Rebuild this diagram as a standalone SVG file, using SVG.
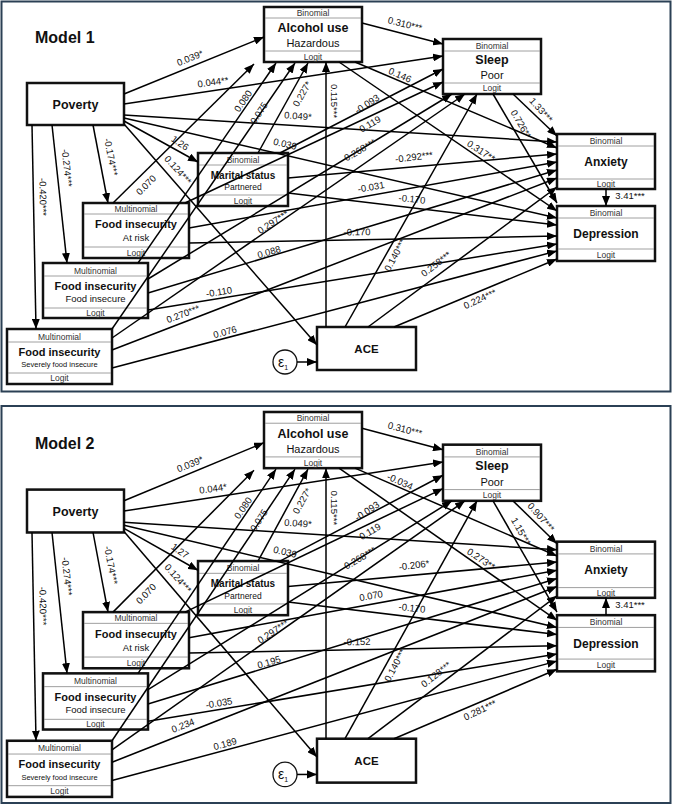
<svg xmlns="http://www.w3.org/2000/svg" width="673" height="806" viewBox="0 0 673 806">
<defs>
<marker id="ah" markerUnits="userSpaceOnUse" markerWidth="10" markerHeight="8" refX="10" refY="4" orient="auto"><path d="M0,0 L10,4 L0,8 z" fill="#000"/></marker>
<style>
.pn{fill:#fff;stroke:#2b4055;stroke-width:2}
.bx{fill:#fff;stroke:#111;stroke-width:2.5}
.dv{stroke:#888;stroke-width:0.8}
.e line{stroke:#000;stroke-width:1.5;marker-end:url(#ah)}
.t{font-family:"Liberation Sans",Arial,sans-serif;fill:#111;text-anchor:middle}
.b{font-weight:bold}
.s{fill:#333}
.lb{font-family:"Liberation Sans",Arial,sans-serif;font-size:9.5px;fill:#111;text-anchor:middle}
.ti{font-family:"Liberation Sans",Arial,sans-serif;font-size:16px;font-weight:bold;fill:#111}
</style>
</defs>
<rect width="673" height="806" fill="#fff"/>
<rect class="pn" x="1.5" y="1.5" width="669" height="390"/>
<rect class="pn" x="1.5" y="406" width="669" height="397"/>

<!-- ============ MODEL 1 ============ -->
<g id="model1">
<text class="ti" x="35" y="43">Model 1</text>
<g id="m1-alcohol"><rect class="bx" x="264" y="7" width="98" height="55"/><line class="dv" x1="265" y1="18" x2="361" y2="18"/><line class="dv" x1="265" y1="51" x2="361" y2="51"/>
<text class="t s" x="313" y="16" font-size="8.5">Binomial</text><text class="t b" x="313" y="32" font-size="12.5">Alcohol use</text><text class="t" x="313" y="47" font-size="11">Hazardous</text><text class="t s" x="313" y="60" font-size="8.5">Logit</text></g>
<g id="m1-sleep"><rect class="bx" x="443" y="39" width="98" height="55"/><line class="dv" x1="444" y1="51" x2="540" y2="51"/><line class="dv" x1="444" y1="83" x2="540" y2="83"/>
<text class="t s" x="492" y="49" font-size="8.5">Binomial</text><text class="t b" x="492" y="64" font-size="12.5">Sleep</text><text class="t" x="492" y="79" font-size="11">Poor</text><text class="t s" x="492" y="91" font-size="8.5">Logit</text></g>
<g id="m1-anxiety"><rect class="bx" x="557" y="134" width="98" height="55"/><line class="dv" x1="558" y1="146" x2="654" y2="146"/><line class="dv" x1="558" y1="179" x2="654" y2="179"/>
<text class="t s" x="606" y="144" font-size="8.5">Binomial</text><text class="t b" x="606" y="166" font-size="12">Anxiety</text><text class="t s" x="606" y="187" font-size="8.5">Logit</text></g>
<g id="m1-depression"><rect class="bx" x="557" y="206" width="98" height="55"/><line class="dv" x1="558" y1="218" x2="654" y2="218"/><line class="dv" x1="558" y1="249" x2="654" y2="249"/>
<text class="t s" x="606" y="216" font-size="8.5">Binomial</text><text class="t b" x="606" y="238" font-size="12">Depression</text><text class="t s" x="606" y="258" font-size="8.5">Logit</text></g>
<g id="m1-poverty"><rect class="bx" x="27" y="83" width="97" height="42"/><text class="t b" x="75.5" y="108.5" font-size="12.5">Poverty</text></g>
<g id="m1-marital"><rect class="bx" x="198" y="153" width="90" height="53"/><line class="dv" x1="199" y1="165" x2="287" y2="165"/><line class="dv" x1="199" y1="195" x2="287" y2="195"/>
<text class="t s" x="243" y="162.5" font-size="8.5">Binomial</text><text class="t b" x="243" y="178.5" font-size="10">Marital status</text><text class="t" x="243" y="190" font-size="8.5">Partnered</text><text class="t s" x="243" y="203.5" font-size="8.5">Logit</text></g>
<g id="m1-fi-atrisk"><rect class="bx" x="83" y="203" width="106" height="55"/><line class="dv" x1="84" y1="214" x2="188" y2="214"/><line class="dv" x1="84" y1="247" x2="188" y2="247"/>
<text class="t s" x="136" y="212" font-size="8.5">Multinomial</text><text class="t b" x="136" y="228" font-size="11">Food insecurity</text><text class="t" x="136" y="241" font-size="9.5">At risk</text><text class="t s" x="136" y="255.5" font-size="8.5">Logit</text></g>
<g id="m1-fi-insecure"><rect class="bx" x="43" y="263" width="105" height="55"/><line class="dv" x1="44" y1="276" x2="147" y2="276"/><line class="dv" x1="44" y1="308" x2="147" y2="308"/>
<text class="t s" x="95.5" y="273.5" font-size="8.5">Multinomial</text><text class="t b" x="95.5" y="290" font-size="11">Food insecurity</text><text class="t" x="95.5" y="302" font-size="9.5">Food insecure</text><text class="t s" x="95.5" y="316" font-size="8.5">Logit</text></g>
<g id="m1-fi-severe"><rect class="bx" x="7" y="329" width="105" height="55"/><line class="dv" x1="8" y1="342" x2="111" y2="342"/><line class="dv" x1="8" y1="373" x2="111" y2="373"/>
<text class="t s" x="59.5" y="339.5" font-size="8.5">Multinomial</text><text class="t b" x="59.5" y="356" font-size="11">Food insecurity</text><text class="t" x="59.5" y="367" font-size="7.5">Severely food insecure</text><text class="t s" x="59.5" y="381" font-size="8.5">Logit</text></g>
<g id="m1-ace"><rect class="bx" x="317" y="327" width="99" height="43"/><text class="t b" x="366.5" y="353" font-size="11.5">ACE</text></g>
<g id="m1-eps"><circle cx="285" cy="362" r="12" fill="#fff" stroke="#111" stroke-width="1.3"/><text class="t" x="283" y="366.5" font-size="14">ε<tspan font-size="7" dy="3">1</tspan></text></g>
<g id="m1-connectors" class="e">
<line x1="124" y1="94" x2="264" y2="37"/>
<line x1="124" y1="104" x2="443" y2="56"/>
<line x1="124" y1="115" x2="557" y2="142"/>
<line x1="124" y1="118" x2="557" y2="218"/>
<line x1="124" y1="121" x2="198" y2="162"/>
<line x1="124" y1="124" x2="317" y2="345"/>
<line x1="93" y1="125" x2="108" y2="203"/>
<line x1="52" y1="125" x2="67" y2="263"/>
<line x1="32" y1="125" x2="36" y2="329"/>
<line x1="362" y1="23" x2="443" y2="44"/>
<line x1="355" y1="62" x2="557" y2="148"/>
<line x1="339" y1="62" x2="557" y2="211"/>
<line x1="513" y1="94" x2="557" y2="136"/>
<line x1="493" y1="94" x2="557" y2="203"/>
<line x1="606" y1="189" x2="606" y2="206"/>
<line x1="326" y1="327" x2="326" y2="62"/>
<line x1="345" y1="327" x2="477" y2="94"/>
<line x1="368" y1="327" x2="557" y2="187"/>
<line x1="394" y1="327" x2="557" y2="259"/>
<line x1="297" y1="362" x2="317" y2="362"/>
<line x1="113" y1="203" x2="254" y2="64"/>
<line x1="138" y1="263" x2="276" y2="63"/>
<line x1="112" y1="329" x2="295" y2="63"/>
<line x1="258" y1="153" x2="308" y2="63"/>
<line x1="185" y1="203" x2="443" y2="82"/>
<line x1="148" y1="279" x2="452" y2="94"/>
<line x1="112" y1="338" x2="465" y2="94"/>
<line x1="280" y1="153" x2="443" y2="69"/>
<line x1="288" y1="178" x2="557" y2="154"/>
<line x1="288" y1="193" x2="557" y2="225"/>
<line x1="189" y1="228" x2="557" y2="162"/>
<line x1="189" y1="243" x2="557" y2="236"/>
<line x1="148" y1="293" x2="557" y2="170"/>
<line x1="148" y1="310" x2="557" y2="244"/>
<line x1="112" y1="350" x2="557" y2="178"/>
<line x1="112" y1="368" x2="557" y2="251"/>
</g>
<g id="m1-labels">
<text class="lb" transform="translate(190,58) rotate(-22)" y="3.3">0.039*</text>
<text class="lb" transform="translate(213,82) rotate(-8)" y="3.3">0.044**</text>
<text class="lb" transform="translate(298,116) rotate(4)" y="3.3">0.049*</text>
<text class="lb" transform="translate(285,144) rotate(13)" y="3.3">0.039</text>
<text class="lb" transform="translate(180,143) rotate(34)" y="3.3">1.26</text>
<text class="lb" transform="translate(178,170) rotate(48)" y="3.3">0.124***</text>
<text class="lb" transform="translate(111,157) rotate(79)" y="3.3">-0.174***</text>
<text class="lb" transform="translate(67,168) rotate(84)" y="3.3">-0.274***</text>
<text class="lb" transform="translate(43,197) rotate(89)" y="3.3">-0.420***</text>
<text class="lb" transform="translate(405,24) rotate(14)" y="3.3">0.310***</text>
<text class="lb" transform="translate(400,75) rotate(24)" y="3.3">0.146</text>
<text class="lb" transform="translate(481,151) rotate(33)" y="3.3">0.317**</text>
<text class="lb" transform="translate(541,110) rotate(48)" y="3.3">1.33***</text>
<text class="lb" transform="translate(521,124) rotate(60)" y="3.3">0.726**</text>
<text class="lb" transform="translate(630,196)" y="3.3">3.41***</text>
<text class="lb" transform="translate(334,101) rotate(90)" y="3.3">0.115***</text>
<text class="lb" transform="translate(395,255) rotate(-62)" y="3.3">0.140***</text>
<text class="lb" transform="translate(436,264) rotate(-38)" y="3.3">0.258***</text>
<text class="lb" transform="translate(480,299) rotate(-25)" y="3.3">0.224***</text>
<text class="lb" transform="translate(146,185) rotate(-45)" y="3.3">0.070</text>
<text class="lb" transform="translate(243,101) rotate(-55)" y="3.3">0.080</text>
<text class="lb" transform="translate(259,113) rotate(-57)" y="3.3">0.075</text>
<text class="lb" transform="translate(302,94) rotate(-60)" y="3.3">0.227*</text>
<text class="lb" transform="translate(367,104) rotate(-33)" y="3.3">-0.093</text>
<text class="lb" transform="translate(370,124) rotate(-30)" y="3.3">0.119</text>
<text class="lb" transform="translate(360,150) rotate(-30)" y="3.3">0.268***</text>
<text class="lb" transform="translate(273,222) rotate(-33)" y="3.3">0.297***</text>
<text class="lb" transform="translate(414,157) rotate(-7)" y="3.3">-0.292***</text>
<text class="lb" transform="translate(412,199) rotate(6)" y="3.3">-0.170</text>
<text class="lb" transform="translate(371,187) rotate(-10)" y="3.3">-0.031</text>
<text class="lb" transform="translate(357,232) rotate(-1)" y="3.3">-0.170</text>
<text class="lb" transform="translate(269,252) rotate(-16)" y="3.3">0.088</text>
<text class="lb" transform="translate(219,292) rotate(-9)" y="3.3">-0.110</text>
<text class="lb" transform="translate(183,314) rotate(-21)" y="3.3">0.270***</text>
<text class="lb" transform="translate(225,332) rotate(-15)" y="3.3">0.076</text>
</g>
</g>

<!-- ============ MODEL 2 ============ -->
<g id="model2" transform="translate(0,404.85) scale(1,1.021)">
<text class="ti" x="35" y="43">Model 2</text>
<g id="m2-alcohol"><rect class="bx" x="264" y="7" width="98" height="55"/><line class="dv" x1="265" y1="18" x2="361" y2="18"/><line class="dv" x1="265" y1="51" x2="361" y2="51"/>
<text class="t s" x="313" y="16" font-size="8.5">Binomial</text><text class="t b" x="313" y="32" font-size="12.5">Alcohol use</text><text class="t" x="313" y="47" font-size="11">Hazardous</text><text class="t s" x="313" y="60" font-size="8.5">Logit</text></g>
<g id="m2-sleep"><rect class="bx" x="443" y="39" width="98" height="55"/><line class="dv" x1="444" y1="51" x2="540" y2="51"/><line class="dv" x1="444" y1="83" x2="540" y2="83"/>
<text class="t s" x="492" y="49" font-size="8.5">Binomial</text><text class="t b" x="492" y="64" font-size="12.5">Sleep</text><text class="t" x="492" y="79" font-size="11">Poor</text><text class="t s" x="492" y="91" font-size="8.5">Logit</text></g>
<g id="m2-anxiety"><rect class="bx" x="557" y="134" width="98" height="55"/><line class="dv" x1="558" y1="146" x2="654" y2="146"/><line class="dv" x1="558" y1="179" x2="654" y2="179"/>
<text class="t s" x="606" y="144" font-size="8.5">Binomial</text><text class="t b" x="606" y="166" font-size="12">Anxiety</text><text class="t s" x="606" y="187" font-size="8.5">Logit</text></g>
<g id="m2-depression"><rect class="bx" x="557" y="206" width="98" height="55"/><line class="dv" x1="558" y1="218" x2="654" y2="218"/><line class="dv" x1="558" y1="249" x2="654" y2="249"/>
<text class="t s" x="606" y="216" font-size="8.5">Binomial</text><text class="t b" x="606" y="238" font-size="12">Depression</text><text class="t s" x="606" y="258" font-size="8.5">Logit</text></g>
<g id="m2-poverty"><rect class="bx" x="27" y="83" width="97" height="42"/><text class="t b" x="75.5" y="108.5" font-size="12.5">Poverty</text></g>
<g id="m2-marital"><rect class="bx" x="198" y="153" width="90" height="53"/><line class="dv" x1="199" y1="165" x2="287" y2="165"/><line class="dv" x1="199" y1="195" x2="287" y2="195"/>
<text class="t s" x="243" y="162.5" font-size="8.5">Binomial</text><text class="t b" x="243" y="178.5" font-size="10">Marital status</text><text class="t" x="243" y="190" font-size="8.5">Partnered</text><text class="t s" x="243" y="203.5" font-size="8.5">Logit</text></g>
<g id="m2-fi-atrisk"><rect class="bx" x="83" y="203" width="106" height="55"/><line class="dv" x1="84" y1="214" x2="188" y2="214"/><line class="dv" x1="84" y1="247" x2="188" y2="247"/>
<text class="t s" x="136" y="212" font-size="8.5">Multinomial</text><text class="t b" x="136" y="228" font-size="11">Food insecurity</text><text class="t" x="136" y="241" font-size="9.5">At risk</text><text class="t s" x="136" y="255.5" font-size="8.5">Logit</text></g>
<g id="m2-fi-insecure"><rect class="bx" x="43" y="263" width="105" height="55"/><line class="dv" x1="44" y1="276" x2="147" y2="276"/><line class="dv" x1="44" y1="308" x2="147" y2="308"/>
<text class="t s" x="95.5" y="273.5" font-size="8.5">Multinomial</text><text class="t b" x="95.5" y="290" font-size="11">Food insecurity</text><text class="t" x="95.5" y="302" font-size="9.5">Food insecure</text><text class="t s" x="95.5" y="316" font-size="8.5">Logit</text></g>
<g id="m2-fi-severe"><rect class="bx" x="7" y="329" width="105" height="55"/><line class="dv" x1="8" y1="342" x2="111" y2="342"/><line class="dv" x1="8" y1="373" x2="111" y2="373"/>
<text class="t s" x="59.5" y="339.5" font-size="8.5">Multinomial</text><text class="t b" x="59.5" y="356" font-size="11">Food insecurity</text><text class="t" x="59.5" y="367" font-size="7.5">Severely food insecure</text><text class="t s" x="59.5" y="381" font-size="8.5">Logit</text></g>
<g id="m2-ace"><rect class="bx" x="317" y="327" width="99" height="43"/><text class="t b" x="366.5" y="353" font-size="11.5">ACE</text></g>
<g id="m2-eps"><circle cx="285" cy="362" r="12" fill="#fff" stroke="#111" stroke-width="1.3"/><text class="t" x="283" y="366.5" font-size="14">ε<tspan font-size="7" dy="3">1</tspan></text></g>
<g id="m2-connectors" class="e">
<line x1="124" y1="94" x2="264" y2="37"/>
<line x1="124" y1="104" x2="443" y2="56"/>
<line x1="124" y1="115" x2="557" y2="142"/>
<line x1="124" y1="118" x2="557" y2="218"/>
<line x1="124" y1="121" x2="198" y2="162"/>
<line x1="124" y1="124" x2="317" y2="345"/>
<line x1="93" y1="125" x2="108" y2="203"/>
<line x1="52" y1="125" x2="67" y2="263"/>
<line x1="32" y1="125" x2="36" y2="329"/>
<line x1="362" y1="23" x2="443" y2="44"/>
<line x1="355" y1="62" x2="557" y2="148"/>
<line x1="339" y1="62" x2="557" y2="211"/>
<line x1="513" y1="94" x2="557" y2="136"/>
<line x1="493" y1="94" x2="557" y2="203"/>
<line x1="606" y1="206" x2="606" y2="189"/>
<line x1="326" y1="327" x2="326" y2="62"/>
<line x1="345" y1="327" x2="477" y2="94"/>
<line x1="368" y1="327" x2="557" y2="187"/>
<line x1="394" y1="327" x2="557" y2="259"/>
<line x1="297" y1="362" x2="317" y2="362"/>
<line x1="113" y1="203" x2="254" y2="64"/>
<line x1="138" y1="263" x2="276" y2="63"/>
<line x1="112" y1="329" x2="295" y2="63"/>
<line x1="258" y1="153" x2="308" y2="63"/>
<line x1="185" y1="203" x2="443" y2="82"/>
<line x1="148" y1="279" x2="452" y2="94"/>
<line x1="112" y1="338" x2="465" y2="94"/>
<line x1="280" y1="153" x2="443" y2="69"/>
<line x1="288" y1="178" x2="557" y2="154"/>
<line x1="288" y1="193" x2="557" y2="225"/>
<line x1="189" y1="228" x2="557" y2="162"/>
<line x1="189" y1="243" x2="557" y2="236"/>
<line x1="148" y1="293" x2="557" y2="170"/>
<line x1="148" y1="310" x2="557" y2="244"/>
<line x1="112" y1="350" x2="557" y2="178"/>
<line x1="112" y1="368" x2="557" y2="251"/>
</g>
<g id="m2-labels">
<text class="lb" transform="translate(190,58) rotate(-22)" y="3.3">0.039*</text>
<text class="lb" transform="translate(213,82) rotate(-8)" y="3.3">0.044*</text>
<text class="lb" transform="translate(298,116) rotate(4)" y="3.3">0.049*</text>
<text class="lb" transform="translate(285,144) rotate(13)" y="3.3">0.039</text>
<text class="lb" transform="translate(180,143) rotate(34)" y="3.3">1.27</text>
<text class="lb" transform="translate(178,170) rotate(48)" y="3.3">0.124***</text>
<text class="lb" transform="translate(111,157) rotate(79)" y="3.3">-0.174***</text>
<text class="lb" transform="translate(67,168) rotate(84)" y="3.3">-0.274***</text>
<text class="lb" transform="translate(43,197) rotate(89)" y="3.3">-0.420***</text>
<text class="lb" transform="translate(405,24) rotate(14)" y="3.3">0.310***</text>
<text class="lb" transform="translate(400,75) rotate(24)" y="3.3">-0.034</text>
<text class="lb" transform="translate(481,151) rotate(33)" y="3.3">0.273**</text>
<text class="lb" transform="translate(541,110) rotate(48)" y="3.3">0.907***</text>
<text class="lb" transform="translate(521,124) rotate(60)" y="3.3">1.15***</text>
<text class="lb" transform="translate(630,196)" y="3.3">3.41***</text>
<text class="lb" transform="translate(334,101) rotate(90)" y="3.3">0.115***</text>
<text class="lb" transform="translate(395,255) rotate(-62)" y="3.3">0.140***</text>
<text class="lb" transform="translate(436,264) rotate(-38)" y="3.3">0.128***</text>
<text class="lb" transform="translate(480,299) rotate(-25)" y="3.3">0.281***</text>
<text class="lb" transform="translate(146,185) rotate(-45)" y="3.3">0.070</text>
<text class="lb" transform="translate(243,101) rotate(-55)" y="3.3">0.080</text>
<text class="lb" transform="translate(259,113) rotate(-57)" y="3.3">0.075</text>
<text class="lb" transform="translate(302,94) rotate(-60)" y="3.3">0.227*</text>
<text class="lb" transform="translate(367,104) rotate(-33)" y="3.3">-0.093</text>
<text class="lb" transform="translate(370,124) rotate(-30)" y="3.3">0.119</text>
<text class="lb" transform="translate(360,150) rotate(-30)" y="3.3">0.268***</text>
<text class="lb" transform="translate(273,222) rotate(-33)" y="3.3">0.297***</text>
<text class="lb" transform="translate(414,157) rotate(-7)" y="3.3">-0.206*</text>
<text class="lb" transform="translate(412,199) rotate(6)" y="3.3">-0.170</text>
<text class="lb" transform="translate(371,187) rotate(-10)" y="3.3">0.070</text>
<text class="lb" transform="translate(357,232) rotate(-1)" y="3.3">-0.152</text>
<text class="lb" transform="translate(269,252) rotate(-16)" y="3.3">0.195</text>
<text class="lb" transform="translate(219,292) rotate(-9)" y="3.3">-0.035</text>
<text class="lb" transform="translate(183,314) rotate(-21)" y="3.3">0.234</text>
<text class="lb" transform="translate(225,332) rotate(-15)" y="3.3">0.189</text>
</g>
</g>
</svg>
